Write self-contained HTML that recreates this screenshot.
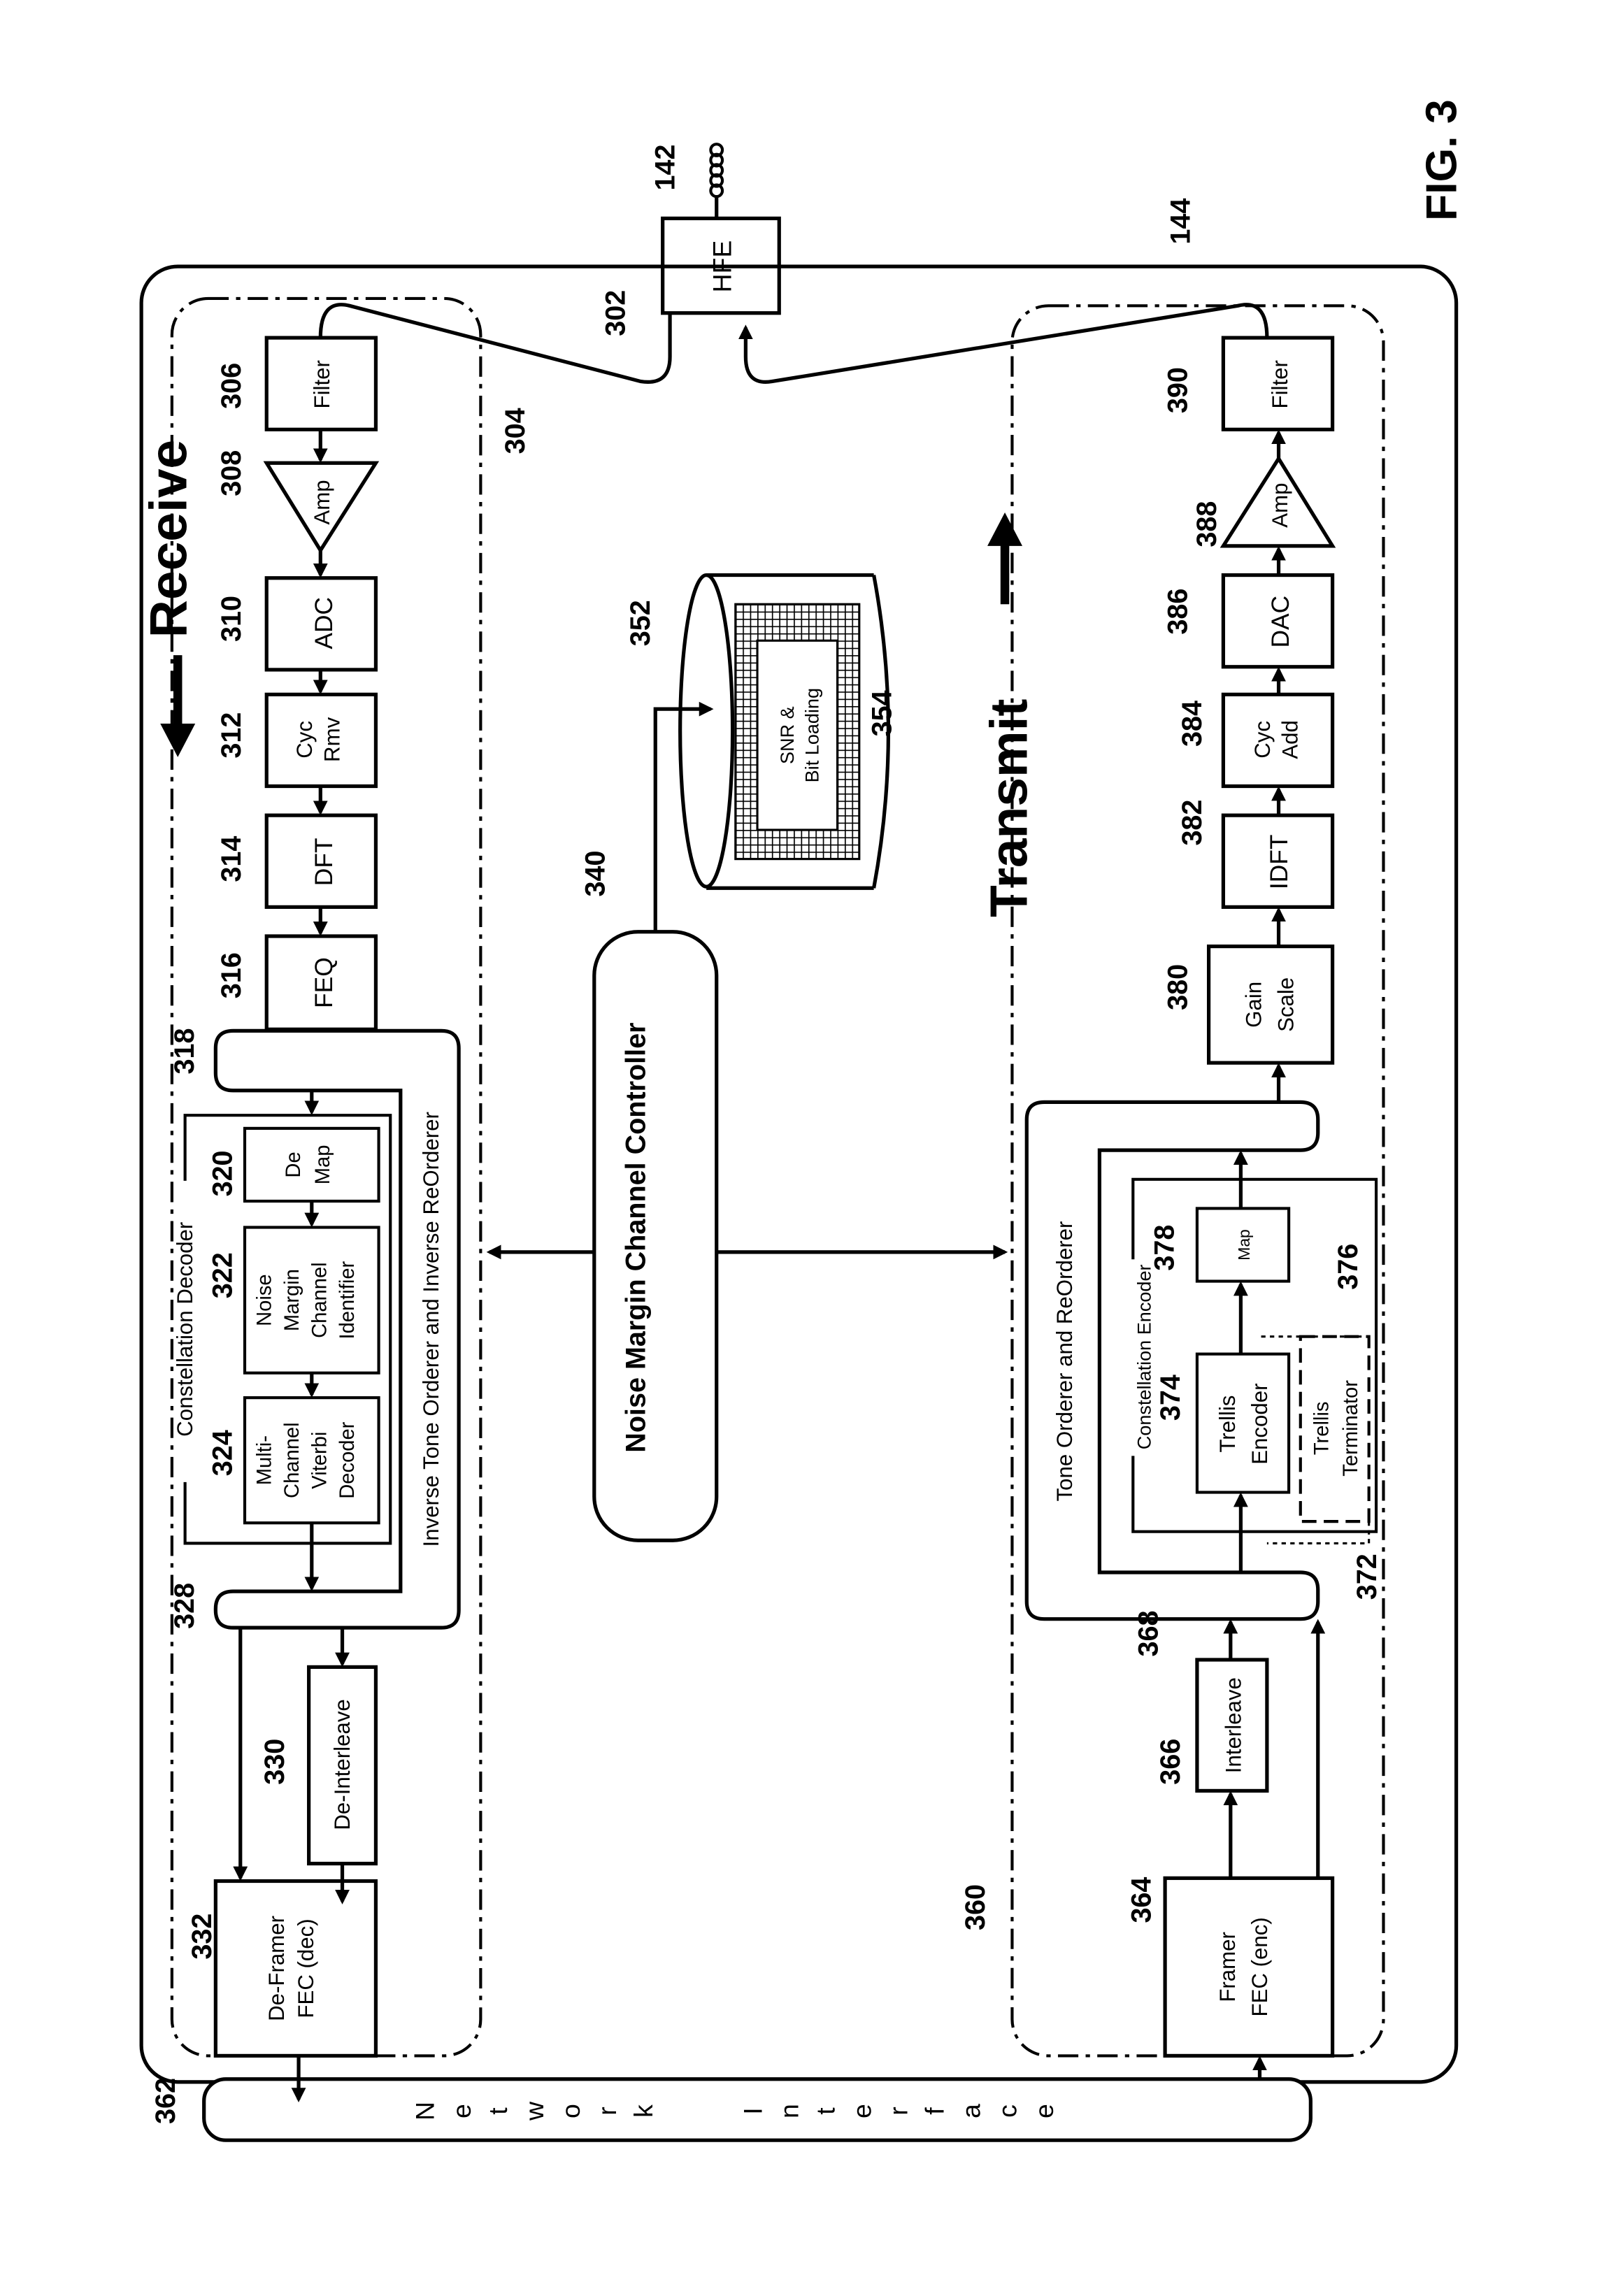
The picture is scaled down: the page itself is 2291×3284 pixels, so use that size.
<!DOCTYPE html>
<html><head><style>
html,body{margin:0;padding:0;background:#fff}
svg{display:block}
text{font-family:"Liberation Sans",sans-serif;fill:#000}
.b{font-weight:bold;font-size:19px}
.t{font-size:15px}
</style></head><body>
<svg width="2291" height="3284" viewBox="0 0 1100 1577" xmlns="http://www.w3.org/2000/svg">
<defs>
<marker id="a" markerWidth="10" markerHeight="10" refX="8" refY="5" orient="auto" markerUnits="userSpaceOnUse"><path d="M0,0 L10,5 L0,10 z" fill="#000"/></marker>
<pattern id="h" width="5" height="5" patternUnits="userSpaceOnUse"><path d="M0,0 L5,0 M0,0 L0,5" stroke="#000" stroke-width="1.6"/></pattern>
</defs>
<g fill="none" stroke="#000" stroke-width="2.5">
<rect x="97" y="183" width="903" height="1247" rx="25"/>
<rect x="140" y="1428" width="760" height="42" rx="15" fill="#fff"/>
<rect x="118" y="205" width="212" height="1207" rx="25" stroke-dasharray="14,5,3,5" stroke-width="2"/>
<rect x="695" y="210" width="255" height="1202" rx="25" stroke-dasharray="14,5,3,5" stroke-width="2"/>
<!-- receive -->
<rect x="183" y="232" width="75" height="63"/>
<path d="M183,318 L258,318 L220,378 Z"/>
<rect x="183" y="397" width="75" height="63"/>
<rect x="183" y="477" width="75" height="63"/>
<rect x="183" y="560" width="75" height="63"/>
<rect x="183" y="643" width="75" height="64"/>
<path d="M160,708 L303,708 Q315,708 315,720 L315,1106 Q315,1118 303,1118 L160,1118 Q148,1118 148,1106 L148,1105 Q148,1093 160,1093 L275,1093 L275,749 L160,749 Q148,749 148,737 L148,720 Q148,708 160,708 Z"/>
<path d="M127,811 L127,766 L268,766 L268,1060 L127,1060 L127,1018" stroke-width="2"/>
<rect x="168" y="775" width="92" height="50" stroke-width="2"/>
<rect x="168" y="843" width="92" height="100" stroke-width="2"/>
<rect x="168" y="960" width="92" height="86" stroke-width="2"/>
<rect x="212" y="1145" width="46" height="135"/>
<rect x="148" y="1292" width="110" height="120"/>
<!-- HFE -->
<rect x="455" y="150" width="80" height="65"/>
<path d="M220,232 Q220,205 240,210 L440,262 Q460,265 460,245 L460,215"/>
<path d="M870,232 Q870,205 850,210 L530,262 Q512,265 512,245 L512,225" marker-end="url(#a)"/>
<path d="M492,150 L492,135"/>
<!-- controller and db -->
<rect x="408" y="640" width="84" height="418" rx="30"/>
<path d="M450,640 L450,487 L488,487" marker-end="url(#a)"/>
<path d="M485,395 L600,395 M485,610 L600,610"/>
<ellipse cx="485" cy="502" rx="18" ry="107"/>
<path d="M600,395 Q620,502 600,610"/>
<rect x="505" y="415" width="85" height="175" fill="url(#h)" stroke-width="1.5"/>
<rect x="520" y="440" width="55" height="130" fill="#fff" stroke-width="1.5"/>
<path d="M408,860 L336,860" marker-end="url(#a)"/>
<path d="M492,860 L690,860" marker-end="url(#a)"/>
<!-- transmit -->
<rect x="840" y="232" width="75" height="63"/>
<path d="M840,375 L915,375 L878,315 Z"/>
<rect x="840" y="395" width="75" height="63"/>
<rect x="840" y="477" width="75" height="63"/>
<rect x="840" y="560" width="75" height="63"/>
<rect x="830" y="650" width="85" height="80"/>
<path d="M717,757 L893,757 Q905,757 905,769 L905,778 Q905,790 893,790 L755,790 L755,1080 L893,1080 Q905,1080 905,1092 L905,1100 Q905,1112 893,1112 L717,1112 Q705,1112 705,1100 L705,769 Q705,757 717,757 Z"/>
<path d="M778,1000 L778,1052 L945,1052 L945,810 L778,810 L778,865" stroke-width="2"/>
<rect x="822" y="830" width="63" height="50" stroke-width="2"/>
<rect x="822" y="930" width="63" height="95" stroke-width="2"/>
<rect x="893" y="918" width="47" height="127" stroke-width="2" stroke-dasharray="10,5"/>
<path d="M866,918 L940,918 M940,1045 L940,1060 L870,1060" stroke-width="1.5" stroke-dasharray="3,3"/>
<rect x="822" y="1140" width="48" height="90"/>
<rect x="800" y="1290" width="115" height="122"/>
</g>
<g fill="none" stroke="#000" stroke-width="2.5" marker-end="url(#a)">
<path d="M220,295 L220,316"/><path d="M220,378 L220,395"/><path d="M220,460 L220,475"/><path d="M220,540 L220,558"/><path d="M220,623 L220,641"/>
<path d="M214,749 L214,764"/>
<path d="M214,825 L214,841"/><path d="M214,943 L214,958"/><path d="M214,1046 L214,1091"/>
<path d="M165,1118 L165,1290"/><path d="M235,1118 L235,1143"/><path d="M235,1280 L235,1306"/>
<path d="M205,1412 L205,1442"/>
<path d="M878,315 L878,297"/><path d="M878,395 L878,377"/><path d="M878,477 L878,460"/><path d="M878,560 L878,542"/><path d="M878,650 L878,625"/><path d="M878,757 L878,732"/>
<path d="M852,830 L852,792"/><path d="M852,930 L852,882"/><path d="M852,1080 L852,1027"/>
<path d="M845,1290 L845,1232"/><path d="M845,1140 L845,1114"/><path d="M905,1290 L905,1114"/>
<path d="M865,1428 L865,1414"/>
</g>
<path d="M122,450 L122,500" stroke="#000" stroke-width="6"/><path d="M110,497 L134,497 L122,520 Z"/>
<path d="M690,415 L690,372" stroke="#000" stroke-width="6"/><path d="M678,375 L702,375 L690,352 Z"/>
<g class="t" text-anchor="middle">
<text transform="translate(226,264) rotate(-90)">Filter</text>
<text transform="translate(226,345) rotate(-90)">Amp</text>
<text transform="translate(228,428) rotate(-90)" style="font-size:17px">ADC</text>
<text transform="translate(214,508) rotate(-90)">Cyc</text>
<text transform="translate(233,508) rotate(-90)">Rmv</text>
<text transform="translate(228,592) rotate(-90)" style="font-size:17px">DFT</text>
<text transform="translate(228,675) rotate(-90)" style="font-size:17px">FEQ</text>
<text transform="translate(206,800) rotate(-90)" style="font-size:14px">De</text>
<text transform="translate(226,800) rotate(-90)" style="font-size:14px">Map</text>
<text transform="translate(186,893) rotate(-90)" style="font-size:14px">Noise</text>
<text transform="translate(205,893) rotate(-90)" style="font-size:14px">Margin</text>
<text transform="translate(224,893) rotate(-90)" style="font-size:14px">Channel</text>
<text transform="translate(243,893) rotate(-90)" style="font-size:14px">Identifier</text>
<text transform="translate(186,1003) rotate(-90)" style="font-size:14px">Multi-</text>
<text transform="translate(205,1003) rotate(-90)" style="font-size:14px">Channel</text>
<text transform="translate(224,1003) rotate(-90)" style="font-size:14px">Viterbi</text>
<text transform="translate(243,1003) rotate(-90)" style="font-size:14px">Decoder</text>
<text transform="translate(132,913) rotate(-90)" style="font-size:15px">Constellation Decoder</text>
<text transform="translate(301,913) rotate(-90)">Inverse Tone Orderer and Inverse ReOrderer</text>
<text transform="translate(240,1212) rotate(-90)">De-Interleave</text>
<text transform="translate(195,1352) rotate(-90)">De-Framer</text>
<text transform="translate(215,1352) rotate(-90)">FEC (dec)</text>
<text transform="translate(502,183) rotate(-90)" style="font-size:18px">HFE</text>
<text transform="translate(443,850) rotate(-90)" style="font-size:19px;font-weight:bold">Noise Margin Channel Controller</text>
<text transform="translate(545,505) rotate(-90)" style="font-size:13px">SNR &amp;</text>
<text transform="translate(562,505) rotate(-90)" style="font-size:13px">Bit Loading</text>
<text transform="translate(884,264) rotate(-90)">Filter</text>
<text transform="translate(884,347) rotate(-90)">Amp</text>
<text transform="translate(885,427) rotate(-90)" style="font-size:17px">DAC</text>
<text transform="translate(872,508) rotate(-90)">Cyc</text>
<text transform="translate(891,508) rotate(-90)">Add</text>
<text transform="translate(884,592) rotate(-90)" style="font-size:17px">IDFT</text>
<text transform="translate(866,690) rotate(-90)">Gain</text>
<text transform="translate(888,690) rotate(-90)">Scale</text>
<text transform="translate(736,935) rotate(-90)">Tone Orderer and ReOrderer</text>
<text transform="translate(790,932) rotate(-90)" style="font-size:13px">Constellation Encoder</text>
<text transform="translate(858,855) rotate(-90)" style="font-size:11px">Map</text>
<text transform="translate(848,978) rotate(-90)">Trellis</text>
<text transform="translate(870,978) rotate(-90)">Encoder</text>
<text transform="translate(912,981) rotate(-90)" style="font-size:14px">Trellis</text>
<text transform="translate(932,981) rotate(-90)" style="font-size:14px">Terminator</text>
<text transform="translate(852,1185) rotate(-90)">Interleave</text>
<text transform="translate(848,1351) rotate(-90)">Framer</text>
<text transform="translate(870,1351) rotate(-90)">FEC (enc)</text>
</g>
<g class="b" text-anchor="middle">
<text transform="translate(128,370) rotate(-90)" style="font-size:36px">Receive</text>
<text transform="translate(705,555) rotate(-90)" style="font-size:36px">Transmit</text>
<text transform="translate(1000,110) rotate(-90)" style="font-size:30px">FIG. 3</text>
<text transform="translate(463,115) rotate(-90)">142</text>
<text transform="translate(817,152) rotate(-90)">144</text>
<text transform="translate(429,215) rotate(-90)">302</text>
<text transform="translate(360,296) rotate(-90)">304</text>
<text transform="translate(165,265) rotate(-90)">306</text>
<text transform="translate(165,325) rotate(-90)">308</text>
<text transform="translate(165,425) rotate(-90)">310</text>
<text transform="translate(165,505) rotate(-90)">312</text>
<text transform="translate(165,590) rotate(-90)">314</text>
<text transform="translate(165,670) rotate(-90)">316</text>
<text transform="translate(133,722) rotate(-90)">318</text>
<text transform="translate(159,806) rotate(-90)">320</text>
<text transform="translate(159,876) rotate(-90)">322</text>
<text transform="translate(159,998) rotate(-90)">324</text>
<text transform="translate(133,1103) rotate(-90)">328</text>
<text transform="translate(195,1210) rotate(-90)">330</text>
<text transform="translate(145,1330) rotate(-90)">332</text>
<text transform="translate(415,600) rotate(-90)">340</text>
<text transform="translate(446,428) rotate(-90)">352</text>
<text transform="translate(612,490) rotate(-90)">354</text>
<text transform="translate(120,1443) rotate(-90)">362</text>
<text transform="translate(676,1310) rotate(-90)">360</text>
<text transform="translate(790,1305) rotate(-90)">364</text>
<text transform="translate(810,1210) rotate(-90)">366</text>
<text transform="translate(795,1122) rotate(-90)">368</text>
<text transform="translate(945,1083) rotate(-90)">372</text>
<text transform="translate(810,960) rotate(-90)">374</text>
<text transform="translate(932,870) rotate(-90)">376</text>
<text transform="translate(806,857) rotate(-90)">378</text>
<text transform="translate(815,678) rotate(-90)">380</text>
<text transform="translate(825,565) rotate(-90)">382</text>
<text transform="translate(825,497) rotate(-90)">384</text>
<text transform="translate(815,420) rotate(-90)">386</text>
<text transform="translate(835,360) rotate(-90)">388</text>
<text transform="translate(815,268) rotate(-90)">390</text>
</g>
<g style="font-size:18px" text-anchor="middle">
<text transform="translate(298,1450) rotate(-90)">N</text><text transform="translate(323,1450) rotate(-90)">e</text><text transform="translate(348,1450) rotate(-90)">t</text><text transform="translate(373,1450) rotate(-90)">w</text><text transform="translate(398,1450) rotate(-90)">o</text><text transform="translate(423,1450) rotate(-90)">r</text><text transform="translate(448,1450) rotate(-90)">k</text>
<text transform="translate(523,1450) rotate(-90)">I</text><text transform="translate(548,1450) rotate(-90)">n</text><text transform="translate(573,1450) rotate(-90)">t</text><text transform="translate(598,1450) rotate(-90)">e</text><text transform="translate(623,1450) rotate(-90)">r</text><text transform="translate(648,1450) rotate(-90)">f</text><text transform="translate(673,1450) rotate(-90)">a</text><text transform="translate(698,1450) rotate(-90)">c</text><text transform="translate(723,1450) rotate(-90)">e</text>
</g>
<g fill="none" stroke="#000" stroke-width="2">
<circle cx="492" cy="131" r="4"/><circle cx="492" cy="124" r="4"/><circle cx="492" cy="117" r="4"/><circle cx="492" cy="110" r="4"/><circle cx="492" cy="103" r="4"/>
</g>
</svg>
</body></html>
